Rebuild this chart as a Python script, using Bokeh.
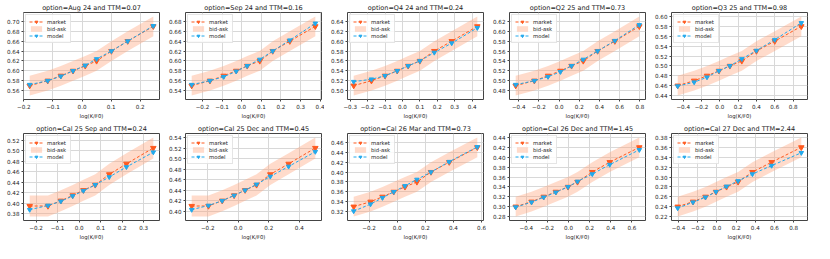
from bokeh.plotting import figure
from bokeh.layouts import gridplot
from bokeh.models import (Range1d, FixedTicker, CustomJSTickFormatter, Legend,
                          LegendItem, ColumnDataSource)
from bokeh.embed import file_html
from bokeh.resources import INLINE

# ---------------- data ----------------
names = ["Aug 24", "Sep 24", "Q4 24", "Q2 25", "Q3 25",
         "Cal 25 Sep", "Cal 25 Dec", "Cal 26 Mar", "Cal 26 Dec", "Cal 27 Dec"]
ttm = [0.07, 0.16, 0.24, 0.73, 0.98, 0.24, 0.45, 0.73, 1.45, 2.44]

SPREAD = 0.02  # bid-ask half width (vol points)

logk = [
    [-0.18, -0.118, -0.073, -0.031, 0.011, 0.05, 0.101, 0.157, 0.245],
    [-0.255, -0.162, -0.092, -0.028, 0.028, 0.092, 0.158, 0.245, 0.375],
    [-0.28, -0.178, -0.10, -0.03, 0.033, 0.10, 0.183, 0.283, 0.43],
    [-0.43, -0.245, -0.11, 0.013, 0.123, 0.239, 0.381, 0.552, 0.794],
    [-0.46, -0.28, -0.14, -0.01, 0.11, 0.24, 0.40, 0.60, 0.89],
    [-0.23, -0.145, -0.085, -0.03, 0.02, 0.075, 0.14, 0.22, 0.345],
    [-0.305, -0.195, -0.105, -0.027, 0.045, 0.12, 0.21, 0.33, 0.505],
    [-0.31, -0.19, -0.105, -0.025, 0.055, 0.14, 0.24, 0.37, 0.57],
    [-0.50, -0.35, -0.235, -0.12, -0.005, 0.085, 0.225, 0.39, 0.67],
    [-0.41, -0.25, -0.12, -0.01, 0.10, 0.22, 0.37, 0.57, 0.88],
]
market = [
    [0.570, 0.580, 0.590, 0.600, 0.610, 0.620, 0.640, 0.660, 0.690],
    [0.550, 0.560, 0.570, 0.580, 0.590, 0.600, 0.620, 0.640, 0.670],
    [0.510, 0.520, 0.530, 0.540, 0.550, 0.560, 0.580, 0.600, 0.630],
    [0.490, 0.500, 0.510, 0.520, 0.530, 0.540, 0.560, 0.580, 0.610],
    [0.460, 0.470, 0.480, 0.490, 0.500, 0.510, 0.530, 0.550, 0.580],
    [0.395, 0.395, 0.405, 0.415, 0.425, 0.435, 0.455, 0.475, 0.505],
    [0.410, 0.410, 0.420, 0.430, 0.440, 0.450, 0.470, 0.490, 0.520],
    [0.330, 0.340, 0.350, 0.360, 0.370, 0.380, 0.400, 0.420, 0.450],
    [0.300, 0.310, 0.320, 0.330, 0.340, 0.350, 0.370, 0.390, 0.420],
    [0.240, 0.250, 0.260, 0.270, 0.280, 0.290, 0.310, 0.330, 0.360],
]
model = [
    [0.572, 0.580, 0.589, 0.600, 0.611, 0.624, 0.640, 0.660, 0.691],
    [0.552, 0.560, 0.568, 0.579, 0.590, 0.603, 0.620, 0.642, 0.676],
    [0.518, 0.523, 0.530, 0.540, 0.550, 0.560, 0.577, 0.596, 0.627],
    [0.492, 0.500, 0.508, 0.518, 0.530, 0.543, 0.560, 0.581, 0.613],
    [0.459, 0.467, 0.477, 0.490, 0.500, 0.514, 0.531, 0.553, 0.587],
    [0.388, 0.396, 0.404, 0.414, 0.424, 0.435, 0.450, 0.469, 0.497],
    [0.403, 0.411, 0.420, 0.430, 0.440, 0.451, 0.466, 0.485, 0.513],
    [0.321, 0.335, 0.348, 0.360, 0.372, 0.385, 0.400, 0.421, 0.451],
    [0.299, 0.309, 0.319, 0.329, 0.340, 0.351, 0.366, 0.385, 0.415],
    [0.237, 0.249, 0.259, 0.270, 0.281, 0.292, 0.306, 0.323, 0.349],
]
xticks = [
    [-0.2, -0.1, 0.0, 0.1, 0.2],
    [-0.2, -0.1, 0.0, 0.1, 0.2, 0.3, 0.4],
    [-0.3, -0.2, -0.1, 0.0, 0.1, 0.2, 0.3, 0.4],
    [-0.4, -0.2, 0.0, 0.2, 0.4, 0.6, 0.8],
    [-0.4, -0.2, 0.0, 0.2, 0.4, 0.6, 0.8],
    [-0.2, -0.1, 0.0, 0.1, 0.2, 0.3],
    [-0.2, 0.0, 0.2, 0.4],
    [-0.2, 0.0, 0.2, 0.4, 0.6],
    [-0.4, -0.2, 0.0, 0.2, 0.4, 0.6],
    [-0.4, -0.2, 0.0, 0.2, 0.4, 0.6, 0.8],
]
yticks = [
    [0.56, 0.58, 0.60, 0.62, 0.64, 0.66, 0.68, 0.70],
    [0.54, 0.56, 0.58, 0.60, 0.62, 0.64, 0.66, 0.68],
    [0.50, 0.52, 0.54, 0.56, 0.58, 0.60, 0.62, 0.64],
    [0.48, 0.50, 0.52, 0.54, 0.56, 0.58, 0.60, 0.62],
    [0.44, 0.46, 0.48, 0.50, 0.52, 0.54, 0.56, 0.58, 0.60],
    [0.38, 0.40, 0.42, 0.44, 0.46, 0.48, 0.50, 0.52],
    [0.40, 0.42, 0.44, 0.46, 0.48, 0.50, 0.52, 0.54],
    [0.32, 0.34, 0.36, 0.38, 0.40, 0.42, 0.44, 0.46],
    [0.28, 0.30, 0.32, 0.34, 0.36, 0.38, 0.40, 0.42, 0.44],
    [0.22, 0.24, 0.26, 0.28, 0.30, 0.32, 0.34, 0.36, 0.38],
]

# ---------------- style ----------------
MARKET_C = "#ff5a1f"
MODEL_C = "#22a9ec"
BAND_C = "#ffa47e"
FONT = "DejaVu Sans"
W, H = 162, 121


def fmt(d):
    return CustomJSTickFormatter(args=dict(d=d), code="""
        const s = Math.abs(tick).toFixed(d);
        return (tick < -1e-9 ? '\\u2212' : '') + s;""")


figs = []
for i in range(10):
    x = logk[i]
    m = market[i]
    md = model[i]
    lo = [v - SPREAD for v in m]
    hi = [v + SPREAD for v in m]
    xmin, xmax = min(x), max(x)
    xp = (xmax - xmin) * 0.05
    ymin = min(min(lo), min(md))
    ymax = max(max(hi), max(md))
    yp = (ymax - ymin) * 0.05

    p = figure(width=W, height=H, output_backend="svg", toolbar_location=None,
               x_range=Range1d(xmin - xp, xmax + xp),
               y_range=Range1d(ymin - yp, ymax + yp),
               min_border_left=23, min_border_right=3,
               min_border_top=12, min_border_bottom=18)
    p.title.text = f"option={names[i]} and TTM={ttm[i]:.2f}"
    p.title.align = "center"
    p.title.text_font = FONT
    p.title.text_font_size = "6.5px"
    p.title.text_font_style = "normal"
    p.title.text_color = "#1a1a1a"
    p.title.standoff = 2
    p.title.offset = 0

    src = ColumnDataSource(dict(x=x, m=m, md=md, lo=lo, hi=hi))
    band = p.varea(x="x", y1="lo", y2="hi", source=src, fill_color=BAND_C,
                   fill_alpha=0.4)
    ml = p.line("x", "m", source=src, line_color=MARKET_C, line_width=1,
                line_dash="3 2")
    ms = p.scatter("x", "m", source=src, marker="inverted_triangle", size=5.5,
                   fill_color=MARKET_C, line_color=MARKET_C)
    dl = p.line("x", "md", source=src, line_color=MODEL_C, line_width=1,
                line_dash="3 2")
    ds = p.scatter("x", "md", source=src, marker="inverted_triangle", size=4.5,
                   fill_color=MODEL_C, line_color=MODEL_C)

    leg = Legend(items=[LegendItem(label="market", renderers=[ml, ms]),
                        LegendItem(label="bid-ask", renderers=[band]),
                        LegendItem(label="model", renderers=[dl, ds])],
                 location="top_left")
    leg.label_text_font = FONT
    leg.label_text_font_size = "5.3px"
    leg.label_text_color = "#222222"
    leg.label_height = 7
    leg.glyph_height = 7
    leg.glyph_width = 14
    leg.label_standoff = 4
    leg.spacing = 0
    leg.padding = 3
    leg.margin = 2
    leg.border_line_color = "#cccccc"
    leg.border_line_width = 0.8
    leg.background_fill_alpha = 0.85
    p.add_layout(leg)

    p.xaxis.axis_label = "log(K/F0)"
    p.xaxis.axis_label_text_font = FONT
    p.xaxis.axis_label_text_font_size = "5.3px"
    p.xaxis.axis_label_text_font_style = "normal"
    p.xaxis.axis_label_text_color = "#222222"
    p.xaxis.axis_label_standoff = 1
    p.xaxis.ticker = FixedTicker(ticks=xticks[i])
    p.yaxis.ticker = FixedTicker(ticks=yticks[i])
    p.xaxis.formatter = fmt(1)
    p.yaxis.formatter = fmt(2)
    for ax in (p.xaxis[0], p.yaxis[0]):
        ax.major_label_text_font = FONT
        ax.major_label_text_font_size = "5.6px"
        ax.major_label_text_color = "#222222"
        ax.major_label_standoff = 2
        ax.major_tick_out = 2
        ax.major_tick_in = 0
        ax.major_tick_line_color = "#444444"
        ax.minor_tick_line_color = None
        ax.axis_line_color = None
    p.grid.grid_line_color = "#d8d8d8"
    p.grid.grid_line_width = 1
    p.outline_line_color = "#444444"
    p.outline_line_width = 1
    p.background_fill_color = "white"
    figs.append(p)

grid = gridplot(figs, ncols=5, toolbar_location=None)
open("out.html", "w").write(file_html(grid, INLINE))
